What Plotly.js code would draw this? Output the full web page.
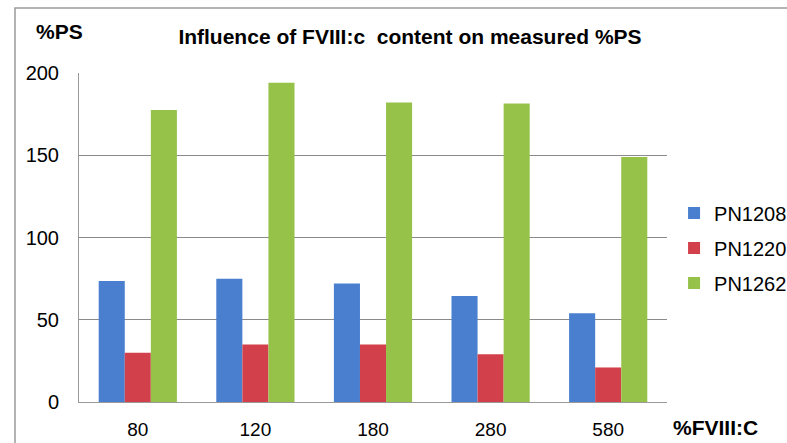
<!DOCTYPE html>
<html>
<head>
<meta charset="utf-8">
<script src="https://cdn.plot.ly/plotly-3.0.1.min.js"></script>
<style>
html,body{margin:0;padding:0;background:#fff;}
#chart{width:787px;height:443px;}
</style>
</head>
<body>
<div id="chart"></div>
<script>
const categories = ['80', '120', '180', '280', '580'];
const seriesNames = ['PN1208', 'PN1220', 'PN1262'];
const pn1208 = [73.5, 75, 72, 64.5, 54];
const pn1220 = [30, 35, 35, 29, 21];
const pn1262 = [177.5, 194, 182, 181.5, 149];
const yTicks = [0, 50, 100, 150, 200];
const colors = ['#4a7fcf', '#d2414b', '#96c24a'];

const values = [pn1208, pn1220, pn1262];
const traces = values.map((v, i) => ({
  type: 'bar',
  name: seriesNames[i],
  x: categories,
  y: v,
  marker: {color: colors[i], line: {width: 0}},
  legendgroup: 'g' + i,
  hoverinfo: 'x+y+name'
}));

const layout = {
  width: 787,
  height: 443,
  margin: {l: 79, r: 120, t: 73, b: 41, autoexpand: false},
  paper_bgcolor: '#ffffff',
  plot_bgcolor: '#ffffff',
  barmode: 'group',
  bargap: 0.335,
  bargroupgap: 0,
  font: {family: 'Liberation Sans, Arial, sans-serif', color: '#000'},
  title: {
    text: 'Influence of FVIII:c  content on measured %PS',
    font: {size: 21, family: 'Liberation Sans, Arial, sans-serif', weight: 'bold', color: '#000'},
    x: 410 / 787, xanchor: 'center', xref: 'container',
    y: 1 - 37 / 443, yanchor: 'middle', yref: 'container'
  },
  xaxis: {
    type: 'category',
    showgrid: false,
    showline: true,
    linecolor: '#999999',
    linewidth: 1,
    ticks: 'outside',
    ticklen: 10,
    tickcolor: 'rgba(0,0,0,0)',
    tickfont: {size: 19, color: '#000'},
    zeroline: false,
    fixedrange: true
  },
  yaxis: {
    range: [0, 200],
    tickvals: yTicks,
    ticktext: yTicks.map(String),
    showgrid: true,
    gridcolor: '#8a8a8a',
    gridwidth: 1,
    showline: true,
    linecolor: '#999999',
    linewidth: 1,
    ticks: 'outside',
    ticklen: 15,
    tickcolor: 'rgba(0,0,0,0)',
    tickfont: {size: 20, color: '#000'},
    zeroline: false,
    fixedrange: true
  },
  legend: {
    x: 1.012, xanchor: 'left',
    y: (402 - 248) / 329, yanchor: 'middle',
    font: {size: 20, color: '#000'},
    tracegroupgap: 6,
    bgcolor: 'rgba(0,0,0,0)',
    itemclick: false
  },
  showlegend: true,
  annotations: [
    {text: '<b>%PS</b>', xref: 'paper', yref: 'paper', x: (34 - 79) / 588, y: (402 - 32) / 329,
     xanchor: 'left', yanchor: 'middle', showarrow: false, font: {size: 21, color: '#000'}},
    {text: '<b>%FVIII:C</b>', xref: 'paper', yref: 'paper', x: (671 - 79) / 588, y: (402 - 427) / 329,
     xanchor: 'left', yanchor: 'middle', showarrow: false, font: {size: 21, color: '#000'}}
  ],
  shapes: [
    {type: 'rect', xref: 'paper', yref: 'paper',
     x0: (15 - 79) / 588, x1: (800 - 79) / 588,
     y0: (402 - 460) / 329, y1: (402 - 8) / 329,
     line: {color: '#9a9a9a', width: 1.5}, fillcolor: 'rgba(0,0,0,0)', layer: 'below'}
  ]
};

Plotly.newPlot('chart', traces, layout, {displayModeBar: false, staticPlot: true});
</script>
</body>
</html>
